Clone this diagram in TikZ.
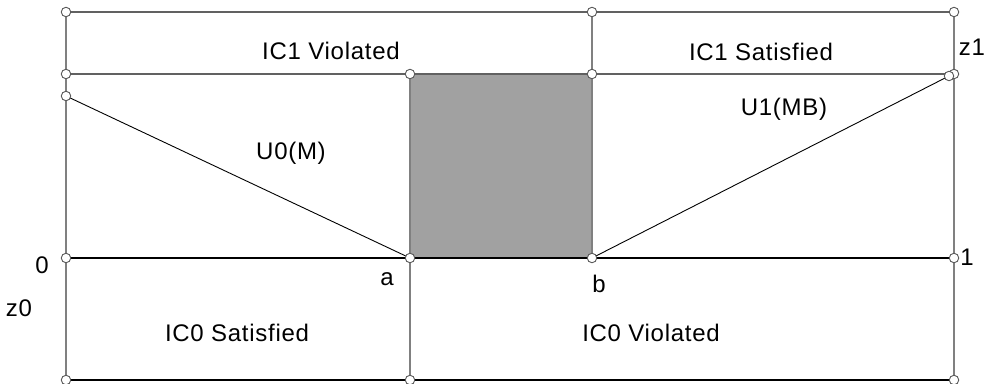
\documentclass[tikz,border=0pt]{standalone}
\usepackage{fontspec}
\setmainfont{Liberation Sans}[LetterSpace=3]
\begin{document}
\begin{tikzpicture}[x=1pt,y=-1pt,
  gridv/.style={draw=black!50,line width=1.4pt},
  gridh/.style={draw=black!62,line width=1.4pt},
  baseln/.style={draw=black,line width=1.1pt},
  diag/.style={draw=black,line width=0.9pt},
  pt/.style={circle,draw=black!65,fill=white,line width=0.9pt,inner sep=0pt,minimum size=9.5pt},
  lbl/.style={font=\fontsize{24}{26}\selectfont,anchor=base,inner sep=0pt}]
\useasboundingbox (0,0) rectangle (990,383);
% grid points
\coordinate (tl) at (66,12);
\coordinate (tm) at (592,12);
\coordinate (tr) at (954,12);
\coordinate (ul) at (66,74);
\coordinate (ua) at (410,74);
\coordinate (ub) at (592,74);
\coordinate (ur) at (954,74);
\coordinate (ml) at (66,258);
\coordinate (ma) at (410,258);
\coordinate (mb) at (592,258);
\coordinate (mr) at (954,258);
\coordinate (bl) at (66,380);
\coordinate (ba) at (410,380);
\coordinate (br) at (954,380);
\coordinate (u0) at (66,96);
\coordinate (u1) at (949,76);
% shaded region between a and b
\fill[fill=black!37] (ua) rectangle (mb);
% vertical lines
\draw[gridv] (tl) -- (bl);
\draw[gridv] (tr) -- (br);
\draw[gridv] (tm) -- (mb);
\draw[gridv] (ua) -- (ba);
% horizontal lines
\draw[gridh] (tl) -- (tr);
\draw[gridh] (ul) -- (ur);
\draw[baseln] (ml) -- (mr);
\draw[baseln] (bl) -- (br);
% utility lines
\draw[diag] (u0) -- (ma);
\draw[diag] (mb) -- (u1);
% points
\foreach \p in {tl,tm,tr,ul,ua,ub,ur,u1,u0,ml,ma,mb,mr,bl,ba,br}
  \node[pt] (n\p) at (\p) {};
% labels
\node[lbl] (t1) at (331,59) {IC1 Violated};
\node[lbl] (t2) at (761,60) {IC1 Satisfied};
\node[lbl] (t3) at (291,159) {U0(M)};
\node[lbl] (t4) at (784,115) {U1(MB)};
\node[lbl] (t5) at (237,341) {IC0 Satisfied};
\node[lbl] (t6) at (651,341) {IC0 Violated};
\node[lbl] (l0) at (42,273) {0};
\node[lbl] (lz0) at (19,316) {z0};
\node[lbl] (l1) at (967,265) {1};
\node[lbl] (lz1) at (972,55) {z1};
\node[lbl] (la) at (387,285) {a};
\node[lbl] (lb) at (599,292) {b};
\end{tikzpicture}
\end{document}
